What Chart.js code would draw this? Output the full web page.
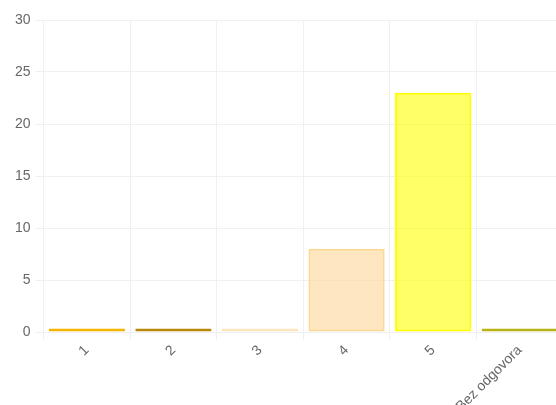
<!DOCTYPE html>
<html lang="en">
<head>
    <meta charset="UTF-8">
    <title>Chart</title>
    <script src="https://cdn.jsdelivr.net/npm/chart.js"></script>
    <style>
        html, body { margin: 0; padding: 0; overflow: hidden; background: #fff; }
        .wrap { width: 563px; height: 405px; position: relative; }
    </style>
</head>
<body>
    <div class="wrap">
        <canvas id="myChart"></canvas>
    </div>

    <script>
        // data
        const categories = ["1", "2", "3", "4", "5", "Bez odgovora"];
        const answers = [0, 0, 0, 8, 23, 0];
        const yTicks = [0, 5, 10, 15, 20, 25, 30];

        const fillColors = ["rgba(245,180,0,0.6)", "rgba(184,134,11,0.6)", "rgba(253,230,190,0.6)",
                            "rgba(253,215,150,0.6)", "rgba(255,255,0,0.6)", "rgba(185,180,20,0.6)"];
        const lineColors = ["#f5b400", "#b8860b", "#fde6be", "#fdd796", "#ffff00", "#b9b414"];

        let ctx = document.getElementById('myChart').getContext('2d');
        let myChart = new Chart(ctx, {
            type: 'bar',
            data: {
                labels: categories,
                datasets: [{
                    data: answers,
                    backgroundColor: fillColors,
                    borderColor: lineColors,
                    borderWidth: 2,
                    borderSkipped: false,
                    minBarLength: 3.5,
                    barPercentage: 0.88,
                    categoryPercentage: 1
                }]
            },
            options: {
                responsive: true,
                maintainAspectRatio: false,
                animation: false,
                layout: { padding: { top: 20, left: 10 } },
                plugins: {
                    legend: { display: false },
                    tooltip: { enabled: false }
                },
                scales: {
                    x: {
                        grid: { color: '#f0f0f0', offset: true },
                        border: { color: '#f0f0f0' },
                        ticks: {
                            color: '#666',
                            font: { size: 14, family: 'Arial' },
                            maxRotation: 45,
                            minRotation: 45,
                            padding: 2
                        },
                        afterFit: (axis) => { axis.height = 73; }
                    },
                    y: {
                        min: 0,
                        max: 30,
                        afterBuildTicks: (axis) => { axis.ticks = yTicks.map(v => ({ value: v })); },
                        grid: { color: '#f0f0f0' },
                        border: { color: '#f0f0f0' },
                        ticks: {
                            color: '#666',
                            padding: 5,
                            font: { size: 14, family: 'Arial' }
                        }
                    }
                }
            }
        });
    </script>
</body>
</html>
